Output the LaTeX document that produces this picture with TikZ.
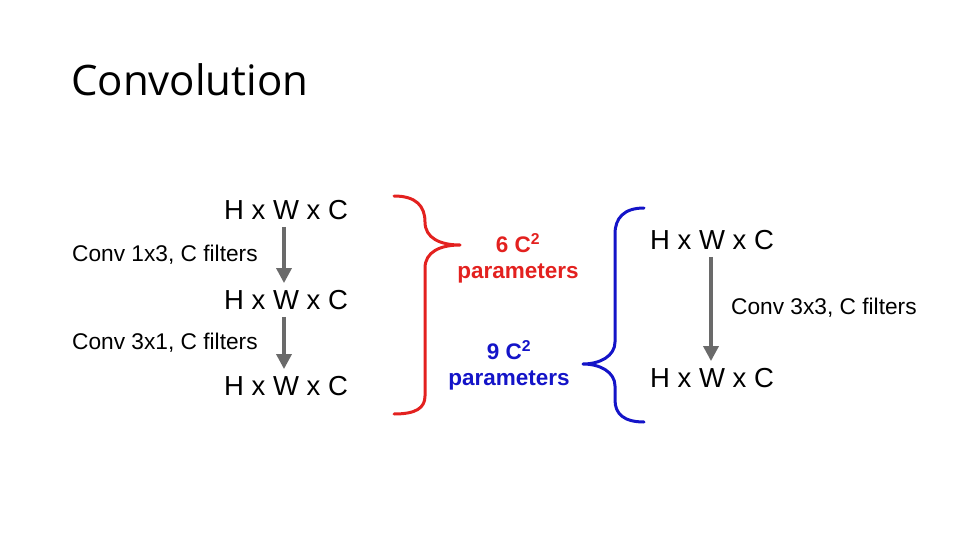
\documentclass[tikz,border=0pt]{standalone}
\usepackage{fontspec}
\setmainfont{Liberation Sans}
\newfontfamily\titlefont{Open Sans}
\usetikzlibrary{arrows.meta}
\definecolor{bred}{HTML}{E3211F}
\definecolor{bblue}{HTML}{1414C8}
\definecolor{agray}{HTML}{6A6A6A}
\tikzset{
  dim/.style={font=\fontsize{27.5}{30}\selectfont, inner sep=0pt},
  lbl/.style={font=\fontsize{22.7}{26}\selectfont, inner sep=0pt},
  par/.style={font=\bfseries\fontsize{22.5}{26}\selectfont, inner sep=0pt},
  flow/.style={draw=agray, line width=3.4pt, -{Triangle[length=15pt,width=15pt]}, shorten <=7pt, shorten >=7pt},
  brace/.style={line width=3pt, line cap=round, line join=round}
}
\begin{document}
\begin{tikzpicture}[x=1pt,y=-1pt]
\useasboundingbox (0,0) rectangle (960,540);
\node[anchor=west, inner sep=0pt, font=\titlefont\fontsize{42}{46}\selectfont] (title) at (71,80) {Convolution};
% left column
\node[dim] (l1) at (286,210) {H x W x C};
\node[dim] (l2) at (286,300) {H x W x C};
\node[dim] (l3) at (286,386) {H x W x C};
\draw[flow] (l1.south -| 284,0) -- (l2.north -| 284,0);
\draw[flow] (l2.south -| 284,0) -- (l3.north -| 284,0);
\node[lbl, anchor=west] (c1) at (72,255) {Conv 1x3, C filters};
\node[lbl, anchor=west] (c2) at (72,343) {Conv 3x1, C filters};
% red brace
\coordinate (rt) at (460,245);
\draw[brace, bred] (394,196) .. controls (416,196) and (425,206) .. (425,222)
  .. controls (425,238) and (440,245) .. (rt)
  .. controls (440,245) and (425,252) .. (425,268)
  -- (425,396) .. controls (425,408) and (416,414) .. (394,414);
\node[par, text=bred] (p1) at (518,243) {6 C\textsuperscript{2}};
\node[par, text=bred] (p2) at (518,273) {parameters};
\node[par, text=bblue] (p3) at (509,350) {9 C\textsuperscript{2}};
\node[par, text=bblue] (p4) at (509,380) {parameters};
% blue brace
\coordinate (bt) at (583,364);
\draw[brace, bblue] (644,208) .. controls (624,208) and (615,218) .. (615,234)
  -- (615,342) .. controls (615,356) and (600,364) .. (bt)
  .. controls (600,364) and (615,372) .. (615,386)
  -- (615,400) .. controls (615,414) and (624,422) .. (644,422);
% right column
\node[dim] (r1) at (712,240) {H x W x C};
\node[dim] (r2) at (712,378) {H x W x C};
\draw[flow] (r1.south -| 711,0) -- (r2.north -| 711,0);
\node[lbl, anchor=west] (c3) at (731,308) {Conv 3x3, C filters};
\end{tikzpicture}
\end{document}
